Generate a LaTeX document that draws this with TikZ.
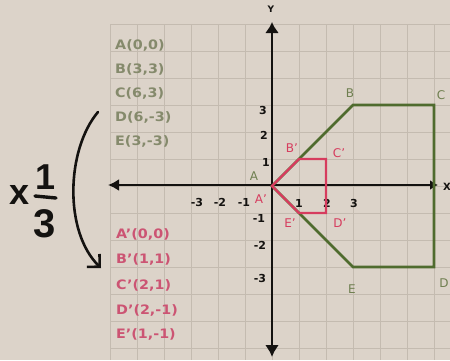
\documentclass[tikz,border=0pt]{standalone}
\usepackage{fontspec}
\usepackage{graphicx}
\setmainfont{DejaVu Sans}
\newfontfamily\handf{Liberation Sans}
\usetikzlibrary{arrows.meta}
\definecolor{bgc}{HTML}{DCD3C9}
\definecolor{gridc}{HTML}{C4BBB0}
\definecolor{grn}{HTML}{4F6B2E}
\definecolor{grntext}{HTML}{858A6C}
\definecolor{grnlab}{HTML}{6F7F50}
\definecolor{redl}{HTML}{D63C5E}
\definecolor{redtext}{HTML}{CC5473}
\definecolor{inkc}{HTML}{141210}
\newcommand{\wide}[1]{\scalebox{1.1}[1]{#1}}
\begin{document}
\begin{tikzpicture}[x=1pt,y=-1pt,
  listg/.style={text=grntext, font=\fontsize{13}{15}\selectfont\bfseries, anchor=west, inner sep=0pt},
  listr/.style={listg, text=redtext},
  ticklab/.style={text=inkc, font=\fontsize{11}{13}\selectfont\bfseries, inner sep=0pt},
  ptg/.style={text=grnlab, font=\fontsize{12}{14}\selectfont, inner sep=0pt},
  ptr/.style={text=redl, font=\fontsize{12}{14}\selectfont, inner sep=0pt},
  axisline/.style={line width=2.8pt, draw=inkc},
  shapeg/.style={draw=grn, line width=2.6pt, line join=miter},
  shaper/.style={draw=redl, line width=2.2pt, line join=miter},
  hand/.style={text=inkc, inner sep=0pt},
  gridline/.style={draw=gridc, line width=0.8pt}
]
\useasboundingbox (0,0) rectangle (450,360);
\fill[bgc] (0,0) rectangle (450,360);
% grid
\foreach \k in {-6,...,6} {
  \draw[gridline] ({272+27*\k},24) -- ({272+27*\k},360);
  \draw[gridline] (110,{186+27*\k}) -- (450,{186+27*\k});
}
% points
\coordinate (A) at (272,186);
\coordinate (B) at (353,105);
\coordinate (C) at (434,105);
\coordinate (D) at (434,267);
\coordinate (E) at (353,267);
\coordinate (Ap) at (272,186);
\coordinate (Bp) at (299,159);
\coordinate (Cp) at (326,159);
\coordinate (Dp) at (326,213);
\coordinate (Ep) at (299,213);
% tick labels
\node[ticklab] (tx1) at (197,202) {-3};
\node[ticklab] (tx2) at (220,202) {-2};
\node[ticklab] (tx3) at (244,202) {-1};
\node[ticklab] (tx4) at (299,203) {1};
\node[ticklab] (tx5) at (327,203) {2};
\node[ticklab] (tx6) at (354,203) {3};
\node[ticklab] (ty1) at (263,110) {3};
\node[ticklab] (ty2) at (264,135) {2};
\node[ticklab] (ty3) at (266,162) {1};
\node[ticklab] (ty4) at (259,218) {-1};
\node[ticklab] (ty5) at (260,245) {-2};
\node[ticklab] (ty6) at (260,278) {-3};
% axes
\coordinate (xl) at (108,185);
\coordinate (xr) at (438,185);
\coordinate (yt) at (272,22);
\coordinate (yb) at (272,357);
\draw[axisline, {Latex[length=11pt,width=12pt]}-{Latex[length=8pt,width=10pt]}] (xl) -- (xr);
\draw[axisline, {Latex[length=11pt,width=14pt]}-{Latex[length=12pt,width=14pt]}] (yt) -- (yb);
\node[ticklab, font=\fontsize{9}{10}\selectfont\bfseries] (ylab) at (271,9) {Y};
\node[ticklab, font=\fontsize{10}{12}\selectfont\bfseries] (xlab) at (447,187) {X};
% shapes
\draw[shapeg] (A) -- (B) -- (C) -- (D) -- (E) -- cycle;
\draw[shaper] (Ap) -- (Bp) -- (Cp) -- (Dp) -- (Ep) -- cycle;
% point labels
\node[ptg] (lA) at (254,176) {A};
\node[ptg] (lB) at (350,93) {B};
\node[ptg] (lC) at (441,95) {C};
\node[ptg] (lD) at (444,283) {D};
\node[ptg] (lE) at (352,289) {E};
\node[ptr] (lAp) at (261,199) {A'};
\node[ptr] (lBp) at (292,148) {B'};
\node[ptr] (lCp) at (339,153) {C'};
\node[ptr] (lDp) at (340,223) {D'};
\node[ptr] (lEp) at (290,223) {E'};
% lists
\node[listg] (gA) at (115,45) {\wide{A(0,0)}};
\node[listg] (gB) at (115,69) {\wide{B(3,3)}};
\node[listg] (gC) at (115,93) {\wide{C(6,3)}};
\node[listg] (gD) at (115,117) {\wide{D(6,-3)}};
\node[listg] (gE) at (115,141) {\wide{E(3,-3)}};
\node[listr] (rA) at (116,234) {\wide{A'(0,0)}};
\node[listr] (rB) at (116,259) {\wide{B'(1,1)}};
\node[listr] (rC) at (116,285) {\wide{C'(2,1)}};
\node[listr] (rD) at (116,310) {\wide{D'(2,-1)}};
\node[listr] (rE) at (116,334) {\wide{E'(1,-1)}};
% curved arrow and factor
\coordinate (arS) at (98,112);
\coordinate (arE) at (101,268);
\draw[line width=2.6pt, draw=inkc, line cap=round, -{Straight Barb[length=9pt,width=18pt]}] (arS) .. controls (66,150) and (64,232) .. (arE);
\node[hand, font=\handf\bfseries\fontsize{36}{36}\selectfont] (mx) at (20,195) {x};
\node[hand, font=\handf\bfseries\fontsize{36}{36}\selectfont] (n1) at (46,177) {1};
\node[hand, font=\handf\bfseries\fontsize{40}{40}\selectfont] (n3) at (45,224) {3};
\coordinate (bl) at (35,196);
\coordinate (br) at (56,198);
\draw[line width=3.4pt, draw=inkc, line cap=round] (bl) -- (br);
\end{tikzpicture}
\end{document}
